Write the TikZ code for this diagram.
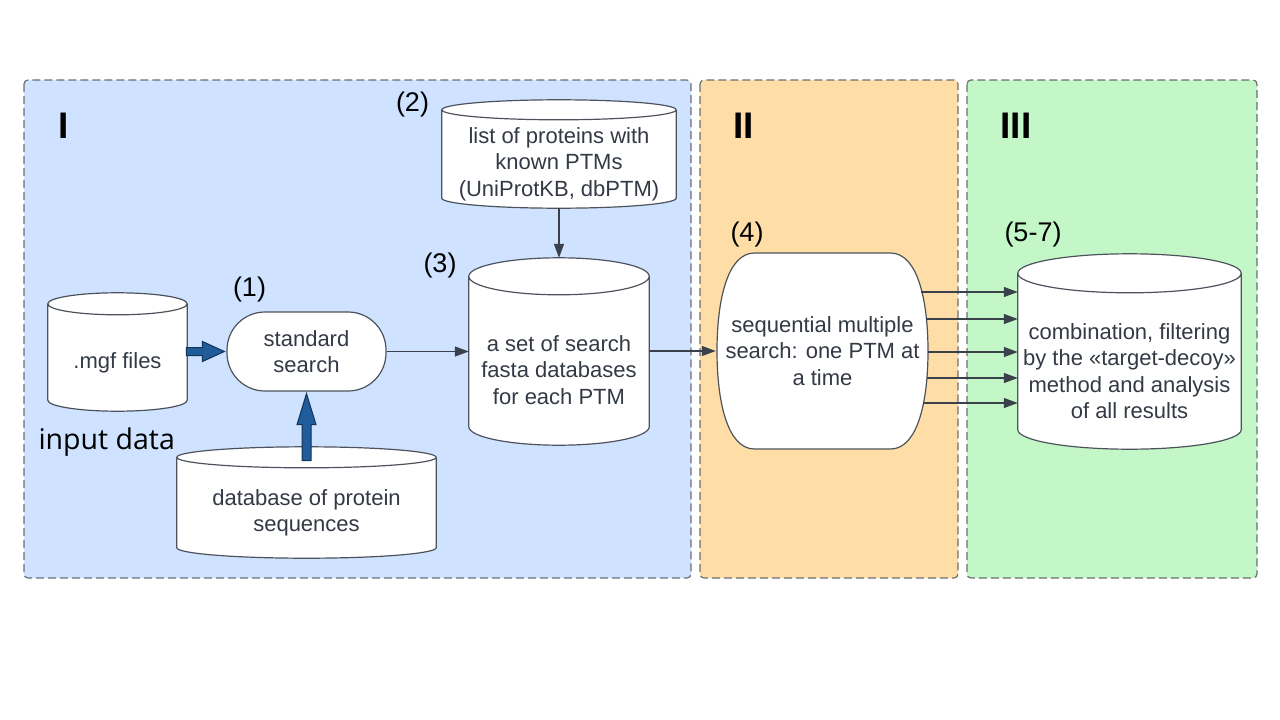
\documentclass[tikz,border=0pt]{standalone}
\usepackage{fontspec}
\setmainfont{Liberation Sans}
\newfontfamily\inputfont{Open Sans}
\usetikzlibrary{arrows.meta,calc,backgrounds}
\definecolor{panelblue}{HTML}{CFE2FF}
\definecolor{panelorange}{HTML}{FFDDA6}
\definecolor{panelgreen}{HTML}{C3F7C8}
\definecolor{bordergray}{HTML}{6B6E73}
\definecolor{txtgray}{HTML}{333A45}
\definecolor{linegray}{HTML}{3A414A}
\definecolor{shapegray}{HTML}{4D535C}
\definecolor{arrowblue}{HTML}{1F5C99}
\definecolor{arrowdark}{HTML}{12345A}
% cylinder outline round a body node: #1 node, #2 half height of the end
\newcommand{\dbdraw}[2]{%
  \path[dbline] let \p1=(#1.north west), \p2=(#1.south east), \n1={(\x2-\x1)/2} in
    (\x1,{\y1+#2}) -- (\x1,{\y2+#2}) arc[start angle=180, end angle=360, x radius={0pt+\n1}, y radius={0pt+#2}]
    -- (\x2,{\y1+#2}) arc[start angle=0, end angle=180, x radius={0pt+\n1}, y radius={0pt+#2}] -- cycle
    (\x1,{\y1+#2}) arc[start angle=180, end angle=360, x radius={0pt+\n1}, y radius={0pt+#2}];}
\begin{document}
\begin{tikzpicture}[x=1pt,y=1pt,
  box/.style={align=center,text=txtgray,inner sep=0pt,font=\fontsize{22}{26.5}\selectfont},
  conn/.style={draw=linegray,line width=1.2pt,-{Triangle[length=14pt,width=10pt]}},
  fat/.style={fill=arrowblue,draw=arrowdark,line width=1pt},
  dbline/.style={fill=white,draw=shapegray,line width=1.2pt},
  panel/.style={draw=bordergray,dash pattern=on 8pt off 4pt,line width=1.2pt,rounded corners=4pt},
  num/.style={font=\fontsize{27}{30}\selectfont},
  part/.style={anchor=base west,font=\fontsize{37}{40}\selectfont\bfseries}]
\useasboundingbox (0,0) rectangle (1280,-720);
\node[part] (partI) at (55,-138) {I};
\node[part] (partII) at (730,-138) {II};
\node[part] (partIII) at (997,-138) {III};
\node[num] (n1) at (249.5,-289.5) {(1)};
\node[num] (n2) at (412.5,-105) {(2)};
\node[num] (n3) at (440,-265.5) {(3)};
\node[num] (n4) at (747,-235) {(4)};
\node[num] (n5) at (1033,-235) {(5-7)};
\node[anchor=base west,font=\inputfont\fontsize{28.5}{32}\selectfont] (input) at (35,-449) {input data};
% nodes
\node[box,minimum width=139,minimum height=96] (mgf) at (117.5,-363) {.mgf files};
\node[box,minimum width=159,minimum height=79,rounded corners=38,draw=shapegray,line width=1.2pt,fill=white] (srch) at (306.5,-351.5) {standard\\search};
\node[box,minimum width=259,minimum height=90] (seqdb) at (306.5,-513) {database of protein\\sequences};
\node[box,minimum width=234,minimum height=88] (list) at (559,-164) {list of proteins with\\known PTMs\\(UniProtKB, dbPTM)};
\node[box,minimum width=180,minimum height=150] (fasta) at (559,-370) {a set of search\\fasta databases\\for each PTM};
\node[box,minimum width=213,minimum height=198] (seq) at (822.5,-351) {sequential multiple\\search: one PTM at\\a time};
\node[box,minimum width=223,minimum height=156] (result) at (1129.5,-371) {combination, filtering\\by the «target-decoy»\\method and analysis\\of all results};
% arrows
\draw[fat] ([xshift=-2pt]srch.west) -- ++(-22,10) -- ++(0,-6) -- ++(-16,0) -- ++(0,-8) -- ++(16,0) -- ++(0,-6) -- cycle;
\draw[fat] ([yshift=-2pt]srch.south) -- ++(-9.5,-31) -- ++(5,0) -- ++(0,-36) -- ++(9,0) -- ++(0,36) -- ++(5,0) -- cycle;
\draw[conn] (srch.east) -- (srch.east -| fasta.west);
\draw[conn] (list.south) -- ([yshift=37pt]fasta.north);
\draw[conn] (fasta.east |- seq.west) -- (seq.west);
\foreach \dy/\dx in {59/8,32/3,-1/1,-27/2,-52/6}{
  \path ($(seq.east)+(-\dx,\dy)$) coordinate (s);
  \draw[conn] (s) -- (s -| result.west);
}
\begin{scope}[on background layer]
\draw[panel,fill=panelblue] (24,-80) rectangle (691,-578);
\draw[panel,fill=panelorange] (700,-80) rectangle (958,-578);
\draw[panel,fill=panelgreen] (967,-80) rectangle (1257,-578);
\dbdraw{mgf}{11}
\dbdraw{seqdb}{10.5}
\dbdraw{list}{10}
\dbdraw{fasta}{18.5}
\dbdraw{result}{19.5}
\path[dbline,shift={(seq.center)}] (-68,98) -- (68,98) .. controls (95,98) and (105.5,51) .. (105.5,0)
  .. controls (105.5,-51) and (95,-98) .. (68,-98) -- (-68,-98) .. controls (-95,-98) and (-105.5,-51) .. (-105.5,0)
  .. controls (-105.5,51) and (-95,98) .. (-68,98) -- cycle;
\end{scope}
\end{tikzpicture}
\end{document}
